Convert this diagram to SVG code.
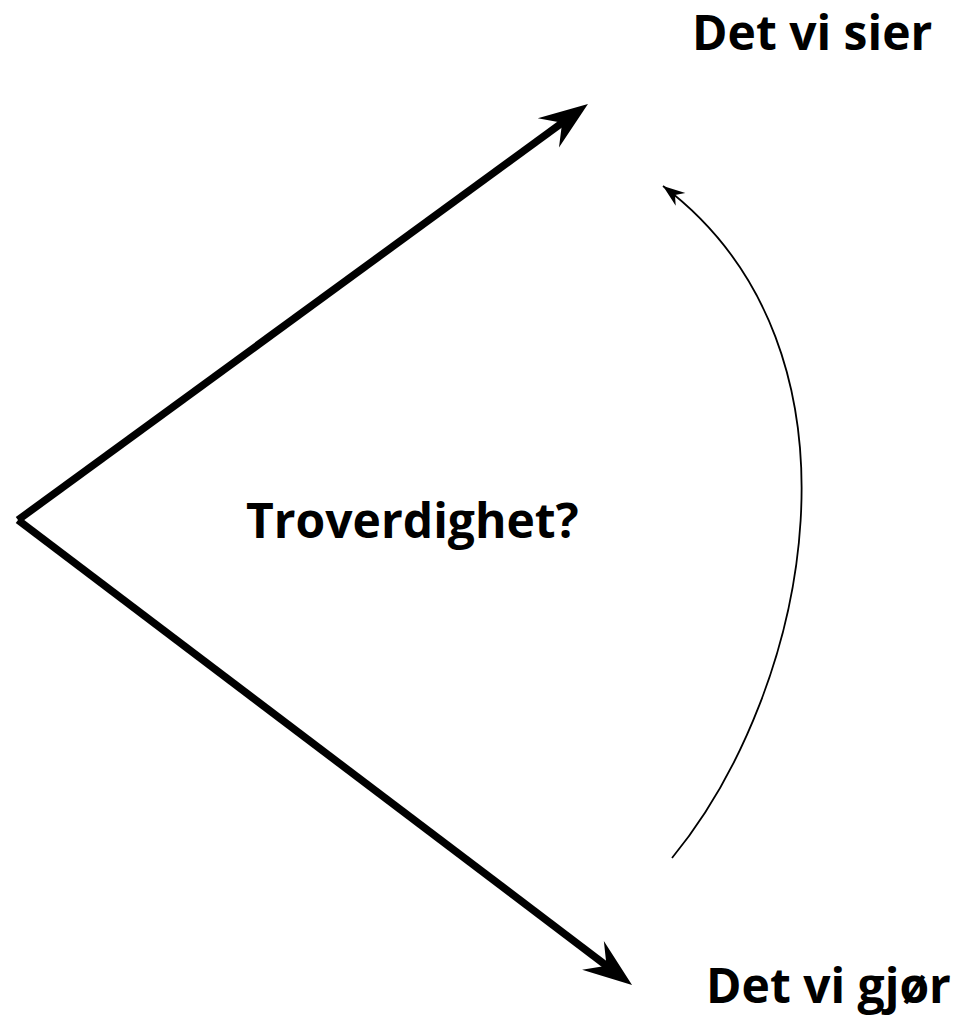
<svg xmlns="http://www.w3.org/2000/svg" width="961" height="1019" viewBox="0 0 961 1019">
<style>
.lbl{font-family:"Open Sans","Liberation Sans",sans-serif;font-weight:bold;font-size:48px;fill:#000}
.thick{fill:none;stroke:#000;stroke-width:7.5}
.thin{fill:none;stroke:#000;stroke-width:1.8}
</style>
<defs>
<marker id="big" markerUnits="userSpaceOnUse" viewBox="-40 -20 64 40" refX="0" refY="0" markerWidth="64" markerHeight="40" orient="auto" overflow="visible">
<path d="M20,0 L-29,-18 L-12,0 L-29,18 Z" fill="#000"/>
</marker>
<marker id="small" markerUnits="userSpaceOnUse" viewBox="-24 -10 26 20" refX="0" refY="0" markerWidth="26" markerHeight="20" orient="auto" overflow="visible">
<path d="M0,0 L-22,-8 L-15,0 L-22,8 Z" fill="#000"/>
</marker>
</defs>
<rect width="961" height="1019" fill="#fff"/>
<g id="connectors">
<path class="thick" d="M18,520 L571.8,115.8" marker-end="url(#big)"/>
<path class="thick" d="M18,520 L616.1,972.9" marker-end="url(#big)"/>
<path class="thin" d="M672,858 C810,690 880,350 663,186" marker-end="url(#small)"/>
</g>
<g id="node-sier"><text class="lbl" x="692" y="50">Det vi sier</text></g>
<g id="node-trov"><text class="lbl" x="246" y="538">Troverdighet?</text></g>
<g id="node-gjor"><text class="lbl" x="706" y="1003">Det vi gjør</text></g>
</svg>
